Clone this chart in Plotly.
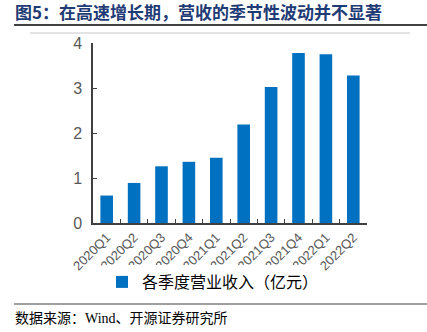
import plotly.graph_objects as go

quarters = ["2020Q1", "2020Q2", "2020Q3", "2020Q4", "2021Q1", "2021Q2",
            "2021Q3", "2021Q4", "2022Q1", "2022Q2"]
revenue = [0.61, 0.89, 1.26, 1.36, 1.45, 2.19, 3.02, 3.78, 3.75, 3.28]
series_name = "各季度营业收入（亿元）"
y_ticks = [0, 1, 2, 3, 4]

title_text = "图5：在高速增长期，营收的季节性波动并不显著"
source_text = "数据来源：Wind、开源证券研究所"

W, H = 427, 332
L, R, T, B = 93, 60, 43, 109
PW, PH = W - L - R, H - T - B

cjk = "Noto Sans CJK SC"


def px_x(px):
    """Pixel column -> paper x."""
    return (px - L) / PW


def px_y(py):
    """Pixel row (from top) -> paper y."""
    return (H - B - py) / PH


fig = go.Figure()
fig.add_trace(go.Bar(
    x=quarters, y=revenue, name=series_name,
    marker=dict(color="#0070C0", line=dict(width=0)),
    showlegend=True,
))

fig.update_layout(
    width=W, height=H, autosize=False,
    margin=dict(l=L, r=R, t=T, b=B, pad=0),
    paper_bgcolor="white", plot_bgcolor="white",
    bargap=0.54,
    font=dict(family=cjk, color="#404040"),
    xaxis=dict(
        showline=True, linecolor="#404040", linewidth=1.5,
        ticks="inside", ticklen=4, tickcolor="#404040",
        tickson="boundaries",
        tickangle=-45, tickfont=dict(size=13, color="#595959", family="Liberation Sans"),
        showgrid=False,
    ),
    yaxis=dict(
        range=[0, 4], tickvals=y_ticks,
        showline=True, linecolor="#404040", linewidth=1.5,
        ticks="inside", ticklen=4, tickcolor="#404040",
        ticklabelstandoff=6,
        tickfont=dict(size=16, color="#595959", family="Liberation Sans"),
        showgrid=False, zeroline=False,
    ),
    legend=dict(
        orientation="h", x=px_x(102), xanchor="left", y=px_y(282), yanchor="middle",
        font=dict(size=16, color="#000000", family=cjk),
        itemwidth=30,
    ),
    annotations=[
        dict(text="<b>" + title_text + "</b>", xref="paper", yref="paper",
             x=px_x(13), y=px_y(12),
             xanchor="left", yanchor="middle", showarrow=False,
             font=dict(size=17, color="#1F3B75", family=cjk)),
        dict(text=source_text, xref="paper", yref="paper",
             x=px_x(13), y=px_y(318),
             xanchor="left", yanchor="middle", showarrow=False,
             font=dict(size=14, color="#000000", family="Liberation Serif, " + cjk)),
    ],
    shapes=[
        dict(type="line", xref="paper", yref="paper",
             x0=px_x(14), x1=px_x(W), y0=px_y(25), y1=px_y(25),
             line=dict(color="#404040", width=2)),
        dict(type="line", xref="paper", yref="paper",
             x0=px_x(30), x1=px_x(410), y0=px_y(33), y1=px_y(33),
             line=dict(color="#C8C8C8", width=1)),
        dict(type="line", xref="paper", yref="paper",
             x0=px_x(14), x1=px_x(W), y0=px_y(304), y1=px_y(304),
             line=dict(color="#404040", width=1)),
    ],
)

fig.write_html("out.html")
